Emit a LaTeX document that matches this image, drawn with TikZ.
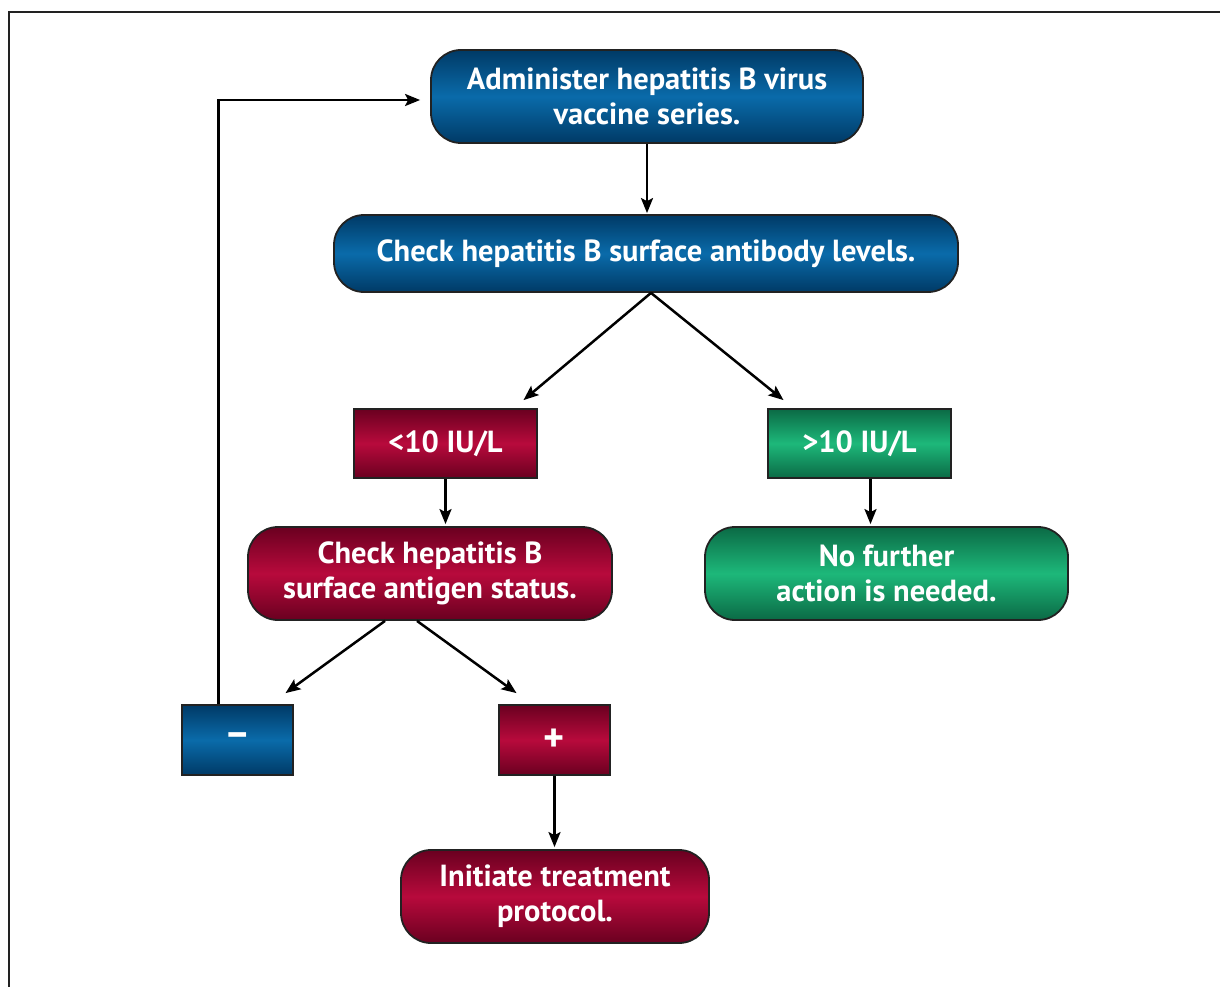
\documentclass[tikz,border=0pt]{standalone}
\usepackage{fontspec}
\setmainfont{PT Sans}
\usetikzlibrary{arrows.meta}
\definecolor{bluel}{HTML}{0A6BAA}
\definecolor{blued}{HTML}{003A66}
\definecolor{redl}{HTML}{B80A3C}
\definecolor{redd}{HTML}{6A0020}
\definecolor{greenl}{HTML}{1DB87A}
\definecolor{greend}{HTML}{0B6A45}
\definecolor{edge}{HTML}{222222}
\tikzset{
  box/.style={draw=edge, line width=1.8pt, inner sep=0pt, align=center,
    text=white, font=\bfseries\fontsize{30.5}{35}\selectfont},
  rbox/.style={box, rounded corners=30pt},
  signbox/.style={box, font=\bfseries\fontsize{40}{40}\selectfont},
  bluebox/.style={top color=blued, bottom color=blued, middle color=bluel},
  redbox/.style={top color=redd, bottom color=redd, middle color=redl},
  greenbox/.style={top color=greend, bottom color=greend, middle color=greenl},
  conn/.style={line width=2.5pt, -{Stealth[length=15pt,width=12pt,inset=3pt]}},
  frame/.style={line width=1.6pt, draw=edge}
}
\begin{document}
\begin{tikzpicture}[x=1pt,y=-1pt]
\useasboundingbox (0,0) rectangle (1220,987);
\draw[frame] (9,987) -- (9,12) -- (1220,12);

\node[rbox, bluebox, minimum width=432pt, minimum height=93pt] (b1) at (647,96.5)
  {Administer hepatitis B virus\\vaccine series.};
\node[rbox, bluebox, minimum width=624pt, minimum height=77pt] (b2) at (646,253.5)
  {Check hepatitis B surface antibody levels.};
\node[box, redbox, minimum width=183pt, minimum height=69pt] (lt) at (445.5,443.5)
  {<10 IU/L};
\node[box, greenbox, minimum width=183pt, minimum height=69pt] (gt) at (859.5,443.5)
  {>10 IU/L};
\node[rbox, redbox, minimum width=364pt, minimum height=93pt] (ag) at (430,573.5)
  {Check hepatitis B\\surface antigen status.};
\node[rbox, greenbox, minimum width=363pt, minimum height=93pt] (nf) at (886.5,573.5)
  {No further\\action is needed.};
\node[signbox, bluebox, minimum width=111pt, minimum height=70pt] (mn) at (237.5,740)
  {\textendash};
\node[signbox, redbox, minimum width=111pt, minimum height=70pt] (pl) at (554.5,740)
  {+};
\node[rbox, redbox, minimum width=308pt, minimum height=93pt] (it) at (555,896.5)
  {Initiate treatment\\protocol.};

\draw[conn] (b1.south) -- ([yshift=1pt]b1.south |- b2.north);
\draw[conn] ([xshift=5pt]b2.south) -- ([xshift=78pt,yshift=8pt]lt.north);
\draw[conn] ([xshift=5pt]b2.south) -- ([xshift=-76pt,yshift=8pt]gt.north);
\draw[conn] (lt.south) -- ([yshift=2pt]lt.south |- ag.north);
\draw[conn] ([xshift=11pt]gt.south) -- ([xshift=11pt,yshift=2pt]gt.south |- nf.north);
\draw[conn] ([xshift=-45pt]ag.south) -- ([xshift=48pt,yshift=11pt]mn.north);
\draw[conn] ([xshift=-13pt]ag.south) -- ([xshift=-38pt,yshift=11pt]pl.north);
\draw[conn] (pl.south) -- ([yshift=2pt]pl.south |- it.north);
\draw[conn] ([xshift=-19pt]mn.north) |- ([xshift=-10pt,yshift=-3.5pt]b1.west);
\end{tikzpicture}
\end{document}
